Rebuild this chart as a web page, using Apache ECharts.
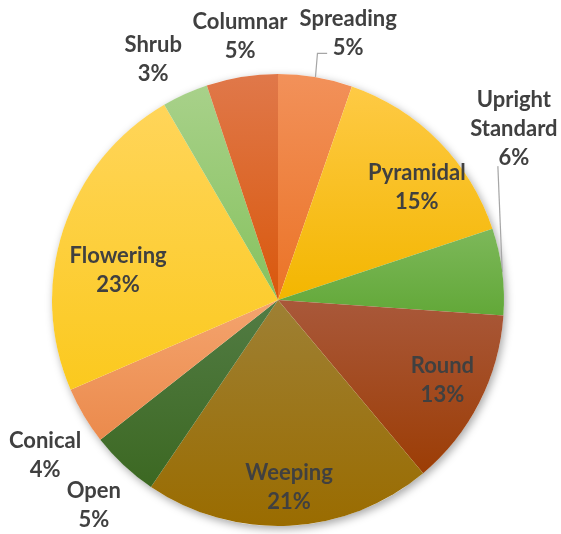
<!DOCTYPE html>
<html>
<head>
<meta charset="utf-8">
<script src="https://cdn.jsdelivr.net/npm/echarts@6/dist/echarts.min.js"></script>
<style>
  html, body { margin: 0; padding: 0; background: #ffffff; }
  #chart { width: 561px; height: 534px; }
</style>
</head>
<body>
<div id="chart"></div>
<script>
// Tree forms and their share of the planting (percent)
const categories = ['Spreading', 'Pyramidal', 'Upright\nStandard', 'Round', 'Weeping',
                    'Open', 'Conical', 'Flowering', 'Shrub', 'Columnar'];
const shares = [5.3, 14.6, 6.2, 12.8, 20.6, 4.9, 4.1, 23.1, 3.3, 5.1];

// Vertical gradient per slice: lighter at the top, deeper at the bottom
const topColors    = ['#F2915A', '#FECA45', '#7DB85A', '#A9583A', '#9E8034',
                      '#527C44', '#F4A46E', '#FFD55A', '#A8D18A', '#E0784A'];
const bottomColors = ['#EB7326', '#F3B600', '#62A838', '#9C3D05', '#9A6C00',
                      '#3C6822', '#EB8A4C', '#FBC91E', '#86C25E', '#D9580C'];

// Label placement: distance from centre (fraction of radius) and angular nudge (degrees)
const labelRadius = [1.22, 0.79, 1.29, 0.81, 0.83, 1.22, 1.24, 0.72, 1.20, 1.18];
const labelShift  = [5.2, 5.7, -28.8, -0.9, -0.5, -1.1, -3.0, -7.6, -3.1, 1.0];
const leaderLine  = [true, false, true, false, false, false, false, false, false, false];

const CX = 278, CY = 300, R = 226;

const total = shares.reduce((a, b) => a + b, 0);
let acc = 0;
const midAngles = shares.map(v => {
  const m = acc + v / 2;
  acc += v;
  return m / total * 360;            // clockwise from 12 o'clock
});

function polar(angleDeg, dist) {
  const a = angleDeg * Math.PI / 180;
  return [CX + dist * Math.sin(a), CY - dist * Math.cos(a)];
}

const data = categories.map((name, i) => ({
  name: name,
  value: shares[i],
  itemStyle: {
    color: {
      type: 'linear', x: 0, y: 0, x2: 0, y2: 1,
      colorStops: [
        { offset: 0, color: topColors[i] },
        { offset: 1, color: bottomColors[i] }
      ]
    }
  },
  labelLine: { show: leaderLine[i] }
}));

const chart = echarts.init(document.getElementById('chart'), null, { renderer: 'canvas' });

chart.setOption({
  animation: false,
  backgroundColor: '#ffffff',
  series: [
    {
      // soft drop shadow under the whole pie
      type: 'pie',
      silent: true,
      z: 1,
      center: [CX, CY],
      radius: R,
      label: { show: false },
      labelLine: { show: false },
      emphasis: { disabled: true },
      itemStyle: {
        color: '#ffffff',
        shadowBlur: 9,
        shadowOffsetX: 2,
        shadowOffsetY: 3,
        shadowColor: 'rgba(0,0,0,0.35)'
      },
      data: [{ value: 1, name: '' }]
    },
    {
      type: 'pie',
      z: 2,
      center: [CX, CY],
      radius: R,
      startAngle: 90,
      clockwise: true,
      avoidLabelOverlap: false,
      emphasis: { disabled: true },
      itemStyle: { borderWidth: 0 },
      label: {
        show: true,
        position: 'outside',
        formatter: p => p.name + '\n' + Math.round(p.percent) + '%',
        fontFamily: 'Lato',
        fontWeight: 'bold',
        fontSize: 22,
        lineHeight: 29,
        color: '#404040',
        align: 'center'
      },
      labelLine: {
        show: false,
        lineStyle: { color: '#A6A6A6', width: 1.2 }
      },
      labelLayout: function (params) {
        const i = params.dataIndex;
        const ang = midAngles[i] + labelShift[i];
        const pos = polar(ang, R * labelRadius[i]);
        const out = { x: pos[0], y: pos[1], align: 'center', verticalAlign: 'middle' };
        if (leaderLine[i]) {
          const start = polar(midAngles[i], R);
          const h = params.labelRect.height;
          if (i === 0) {
            const yLine = pos[1] + h / 2 - 9;
            out.labelLinePoints = [start, [start[0] + 2, yLine], [pos[0] - 21, yLine]];
          } else {
            out.labelLinePoints = [start, [pos[0] - 16, pos[1] + h / 2 - 6]];
          }
        }
        return out;
      },
      data: data
    }
  ]
});
</script>
</body>
</html>
